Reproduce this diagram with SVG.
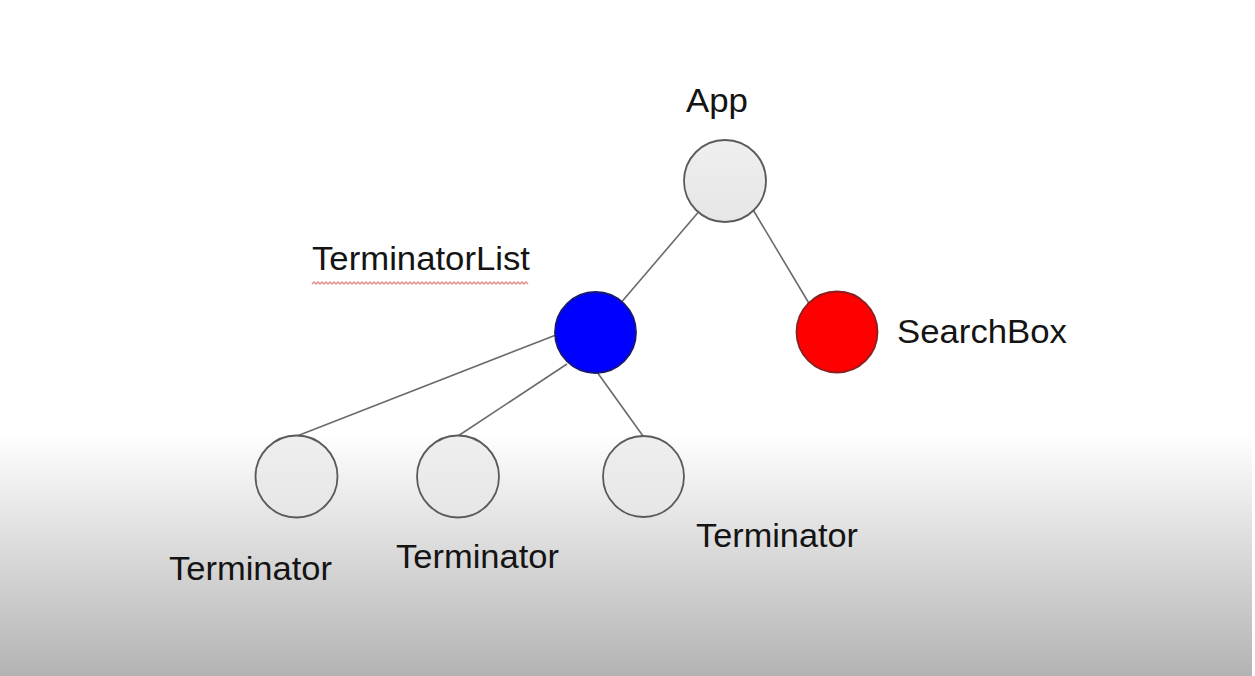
<svg xmlns="http://www.w3.org/2000/svg" width="1255" height="676" viewBox="0 0 1255 676">
  <defs>
    <linearGradient id="bg" x1="0" y1="0" x2="0" y2="676" gradientUnits="userSpaceOnUse">
      <stop offset="0" stop-color="#ffffff"/>
      <stop offset="0.64" stop-color="#ffffff"/>
      <stop offset="1" stop-color="#b3b3b3"/>
    </linearGradient>
    <linearGradient id="nodeFill" x1="0" y1="0" x2="0" y2="1">
      <stop offset="0" stop-color="#efefef"/>
      <stop offset="1" stop-color="#e6e6e6"/>
    </linearGradient>
  </defs>
  <style>
    .lbl { font-family: "Liberation Sans", Arial, sans-serif; font-size: 33px; fill: #141414; }
    .edge { stroke: #6a6a6a; stroke-width: 1.6; fill: none; }
    .plain { fill: url(#nodeFill); stroke: #5a5a5a; stroke-width: 1.8; }
    .blue { fill: #0000ff; stroke: #1a1a70; stroke-width: 1.8; }
    .red { fill: #ff0000; stroke: #8a2020; stroke-width: 1.8; }
    .squiggle { stroke: #e08a8a; stroke-width: 1.4; fill: none; }
  </style>
  <rect x="0" y="0" width="1252" height="676" fill="url(#bg)"/>
  <rect x="1252" y="0" width="3" height="676" fill="#ffffff"/>

  <g id="connectors">
    <line class="edge" x1="725" y1="181" x2="595.5" y2="332.5"/>
    <line class="edge" x1="752" y1="208" x2="810" y2="305"/>
    <line class="edge" x1="556" y1="335" x2="297" y2="436"/>
    <line class="edge" x1="567" y1="364" x2="458" y2="436"/>
    <line class="edge" x1="597" y1="372" x2="643" y2="436"/>
  </g>

  <g id="node-app">
    <circle class="plain" cx="725" cy="181" r="41"/>
    <text class="lbl" x="686" y="112" textLength="62" lengthAdjust="spacingAndGlyphs">App</text>
  </g>
  <g id="node-terminatorlist">
    <circle class="blue" cx="595.5" cy="332.5" r="40.5"/>
    <text class="lbl" x="312" y="270" textLength="218" lengthAdjust="spacingAndGlyphs">TerminatorList</text>
    <polyline class="squiggle" points="312,284 314,282 316,284 318,282 320,284 322,282 324,284 326,282 328,284 330,282 332,284 334,282 336,284 338,282 340,284 342,282 344,284 346,282 348,284 350,282 352,284 354,282 356,284 358,282 360,284 362,282 364,284 366,282 368,284 370,282 372,284 374,282 376,284 378,282 380,284 382,282 384,284 386,282 388,284 390,282 392,284 394,282 396,284 398,282 400,284 402,282 404,284 406,282 408,284 410,282 412,284 414,282 416,284 418,282 420,284 422,282 424,284 426,282 428,284 430,282 432,284 434,282 436,284 438,282 440,284 442,282 444,284 446,282 448,284 450,282 452,284 454,282 456,284 458,282 460,284 462,282 464,284 466,282 468,284 470,282 472,284 474,282 476,284 478,282 480,284 482,282 484,284 486,282 488,284 490,282 492,284 494,282 496,284 498,282 500,284 502,282 504,284 506,282 508,284 510,282 512,284 514,282 516,284 518,282 520,284 522,282 524,284 526,282 528,284"/>
  </g>
  <g id="node-searchbox">
    <circle class="red" cx="837" cy="332" r="40.5"/>
    <text class="lbl" x="897" y="343" textLength="170" lengthAdjust="spacingAndGlyphs">SearchBox</text>
  </g>
  <g id="node-terminator-1">
    <circle class="plain" cx="296.5" cy="476.5" r="41"/>
    <text class="lbl" x="169" y="580" textLength="163" lengthAdjust="spacingAndGlyphs">Terminator</text>
  </g>
  <g id="node-terminator-2">
    <circle class="plain" cx="458" cy="476.5" r="41"/>
    <text class="lbl" x="396" y="568" textLength="163" lengthAdjust="spacingAndGlyphs">Terminator</text>
  </g>
  <g id="node-terminator-3">
    <circle class="plain" cx="643.5" cy="476.5" r="40.5"/>
    <text class="lbl" x="696" y="547" textLength="162" lengthAdjust="spacingAndGlyphs">Terminator</text>
  </g>
</svg>
